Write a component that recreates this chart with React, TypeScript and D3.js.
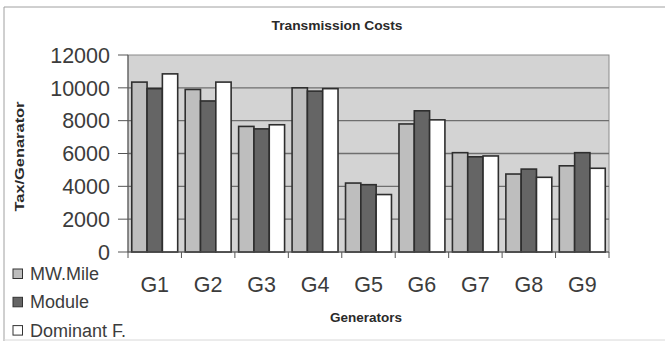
import React from "react";
import * as d3 from "d3";

const categories = ["G1", "G2", "G3", "G4", "G5", "G6", "G7", "G8", "G9"];
const seriesNames = ["MW.Mile", "Module", "Dominant F."];
const mwMile = [10350, 9900, 7650, 10000, 4200, 7800, 6050, 4750, 5250];
const moduleVals = [9950, 9200, 7500, 9800, 4100, 8600, 5800, 5050, 6050];
const dominant = [10850, 10350, 7750, 9950, 3500, 8050, 5850, 4550, 5100];
const yTicks = [0, 2000, 4000, 6000, 8000, 10000, 12000];

const W = 665;
const H = 341;
const plot = { left: 128, right: 609, top: 55, bottom: 252 };
const colors = ["#bebebe", "#656565", "#ffffff"];
const FONT = "'Liberation Sans', Arial, sans-serif";

export default function App() {
  const series = [mwMile, moduleVals, dominant];
  const x = d3.scaleBand<string>().domain(categories).range([plot.left, plot.right]).paddingInner(0).paddingOuter(0);
  const inner = d3
    .scaleBand<string>()
    .domain(seriesNames)
    .range([0, x.bandwidth()])
    .paddingInner(0)
    .paddingOuter(0.245);
  const y = d3.scaleLinear().domain([0, 12000]).range([plot.bottom, plot.top]);
  const bw = inner.bandwidth();
  const boundaries = [...categories.map((c) => x(c) as number), plot.right];

  return (
    <svg
      width={W}
      height={H}
      style={{ position: "absolute", left: 0, top: 0, background: "#ffffff" }}
      fontFamily={FONT}
    >
      {/* outer chart frame */}
      <line x1={4} y1={7} x2={W} y2={7} stroke="#a0a0a0" strokeWidth={1} />
      <line x1={4} y1={7} x2={4} y2={H} stroke="#a0a0a0" strokeWidth={1} />
      <line x1={4} y1={340} x2={W} y2={340} stroke="#d8d8d8" strokeWidth={1} />

      {/* title */}
      <text x={337} y={30} textAnchor="middle" fontSize={13.5} fontWeight="bold" fill="#2a2a2a" textLength={131} lengthAdjust="spacingAndGlyphs">
        Transmission Costs
      </text>

      {/* plot background */}
      <rect x={plot.left} y={plot.top} width={plot.right - plot.left} height={plot.bottom - plot.top} fill="#d3d3d3" stroke="#8a8a8a" strokeWidth={1} />

      {/* gridlines */}
      {yTicks.slice(1, -1).map((t) => (
        <line key={"g" + t} x1={plot.left} x2={plot.right} y1={y(t)} y2={y(t)} stroke="#6e6e6e" strokeWidth={1.4} />
      ))}

      {/* bars */}
      {categories.map((c, i) => (
        <g key={c}>
          {series.map((s, j) => (
            <rect
              key={j}
              x={(x(c) as number) + (inner(seriesNames[j]) as number)}
              y={y(s[i])}
              width={bw}
              height={plot.bottom - y(s[i])}
              fill={colors[j]}
              stroke="#2e2e2e"
              strokeWidth={1.6}
            />
          ))}
        </g>
      ))}

      {/* axes */}
      <line x1={plot.left} x2={plot.left} y1={plot.top} y2={plot.bottom} stroke="#555" strokeWidth={1} />
      <line x1={plot.left} x2={plot.right} y1={plot.bottom} y2={plot.bottom} stroke="#555" strokeWidth={1} />
      {yTicks.map((t) => (
        <g key={"y" + t}>
          <line x1={118} x2={plot.left} y1={y(t)} y2={y(t)} stroke="#555" strokeWidth={1} />
          <text x={110} y={y(t)} dy="0.36em" textAnchor="end" fontSize={21.5} fill="#3c3c3c">
            {t}
          </text>
        </g>
      ))}
      {boundaries.map((bx, i) => (
        <line key={"xt" + i} x1={bx} x2={bx} y1={plot.bottom} y2={plot.bottom + 6} stroke="#555" strokeWidth={1} />
      ))}
      {categories.map((c) => (
        <text key={"xl" + c} x={(x(c) as number) + x.bandwidth() / 2} y={292} textAnchor="middle" fontSize={21.5} fill="#3c3c3c">
          {c}
        </text>
      ))}

      {/* axis titles */}
      <text
        transform={`translate(24, 156.5) rotate(-90)`}
        textAnchor="middle"
        fontSize={13}
        fontWeight="bold"
        fill="#2a2a2a"
        textLength={110}
        lengthAdjust="spacingAndGlyphs"
      >
        Tax/Genarator
      </text>
      <text x={366} y={322} textAnchor="middle" fontSize={13} fontWeight="bold" fill="#2a2a2a" textLength={72} lengthAdjust="spacingAndGlyphs">
        Generators
      </text>

      {/* legend */}
      {seriesNames.map((n, j) => {
        const by = 280 + j * 28.3;
        return (
          <g key={"lg" + n}>
            <rect x={13} y={by - 11} width={9.5} height={9.5} fill={colors[j]} stroke="#333" strokeWidth={1} />
            <text x={30} y={by} fontSize={18} fill="#3c3c3c">
              {n}
            </text>
          </g>
        );
      })}
    </svg>
  );
}
